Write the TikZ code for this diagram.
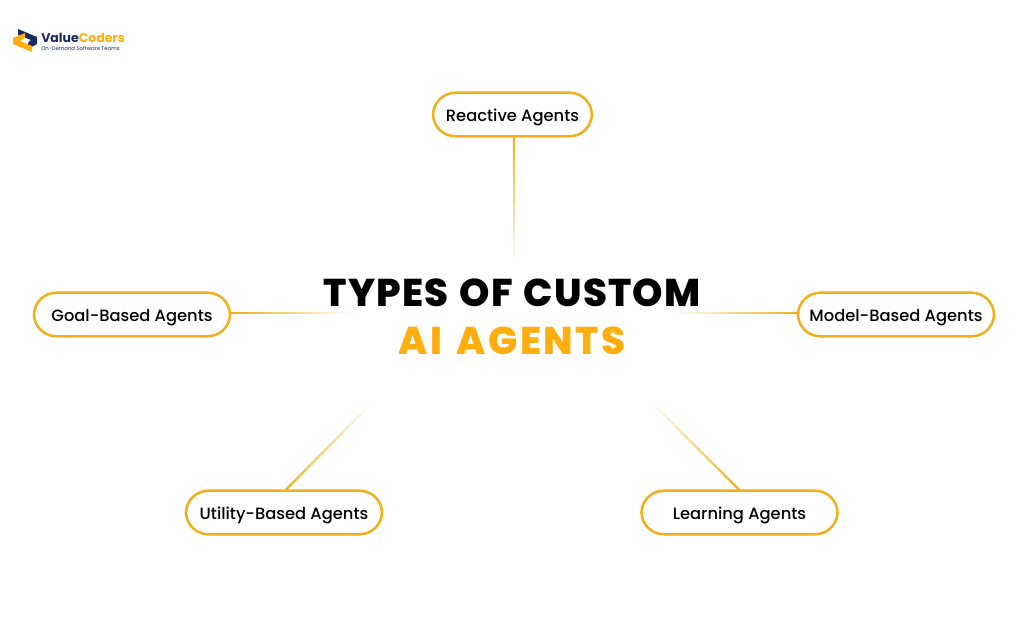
\documentclass[tikz,border=0pt]{standalone}
\usepackage{fontspec}
\usetikzlibrary{calc}
\setmainfont{Poppins}
\newfontfamily\agentfont{Poppins Medium}
\newfontfamily\titlefont[LetterSpace=3,WordSpace=1.3]{Poppins ExtraBold}
\newfontfamily\subtitlefont[LetterSpace=6,WordSpace=1.5]{Poppins ExtraBold}
\definecolor{agentline}{HTML}{F0B01E}
\definecolor{titleamber}{HTML}{FFAE0D}
\definecolor{logonavy}{HTML}{1B2A5C}
\tikzset{
  agent/.style={draw=agentline,line width=1.8pt,fill=white,rounded corners=0.56cm,
    minimum width=4.9cm,minimum height=1.09cm,inner sep=0pt,text height=10.3pt,text depth=0pt,
    font=\agentfont\fontsize{11.6}{14}\selectfont},
  headline/.style={inner sep=0pt,font=\titlefont\fontsize{27.5}{33}\selectfont},
}
% one fading connector, from a node border to a free end
\newcommand{\fadeline}[2]{
  \foreach \i in {0,...,39}{
    \pgfmathsetmacro{\fadeval}{100-\i*2.5}
    \draw[color=agentline!\fadeval!white,line width=1.6pt]
      ($(#1)!\i/40!(#2)$) -- ($(#1)!{(\i+1)/40+0.002}!(#2)$);
  }
}

\begin{document}
\begin{tikzpicture}[x=0.025cm,y=-0.025cm]
  \useasboundingbox (0,0) rectangle (1024,630);
  \fill[white] (0,0) rectangle (1024,630);

  % the title
  \node[headline] (titletop) at (512,293) {TYPES OF CUSTOM};
  \node[headline,text=titleamber,font=\subtitlefont\fontsize{27.5}{33}\selectfont] (titlebottom) at (512,341) {AI AGENTS};

  % the five agents
  \node[agent,minimum width=3.97cm] (reactive) at (512.5,114.5) {Reactive Agents};
  \node[agent] (goal) at (132,314.5) {Goal-Based Agents};
  \node[agent] (model) at (896,314.5) {Model-Based Agents};
  \node[agent] (utility) at (284,512.5) {Utility-Based Agents};
  \node[agent] (learning) at (739.5,512.5) {Learning Agents};

  % ends of the connectors
  \coordinate (reactivestart) at (514,137.5);
  \coordinate (reactiveend) at (514,262);
  \coordinate (goalstart) at (231,313);
  \coordinate (goalend) at (355,313);
  \coordinate (modelstart) at (797,313);
  \coordinate (modelend) at (675,313);
  \coordinate (utilitystart) at (286,489.5);
  \coordinate (utilityend) at (370,405);
  \coordinate (learningstart) at (739,489.5);
  \coordinate (learningend) at (652,403);

  \fadeline{reactivestart}{reactiveend}
  \fadeline{goalstart}{goalend}
  \fadeline{modelstart}{modelend}
  \fadeline{utilitystart}{utilityend}
  \fadeline{learningstart}{learningend}

  % the logo
  \fill[logonavy] (18,29) -- (37,37) -- (37,44) -- (28,49) -- (28,43) -- (31,40) -- (18,35) -- cycle;
  \fill[titleamber] (13,38) -- (25,33) -- (25,38) -- (20,41) -- (32,46) -- (32,52) -- (13,44) -- cycle;
  \node[anchor=west,inner sep=0pt,font=\bfseries\fontsize{8.9}{12}\selectfont,text=logonavy] (logoname) at (41,38)
    {Value\textcolor{titleamber}{Coders}};
  \node[anchor=west,inner sep=0pt,font=\fontsize{3.8}{5}\selectfont,text=logonavy] (logotag) at (41,48)
    {On-Demand Software Teams};
\end{tikzpicture}
\end{document}
